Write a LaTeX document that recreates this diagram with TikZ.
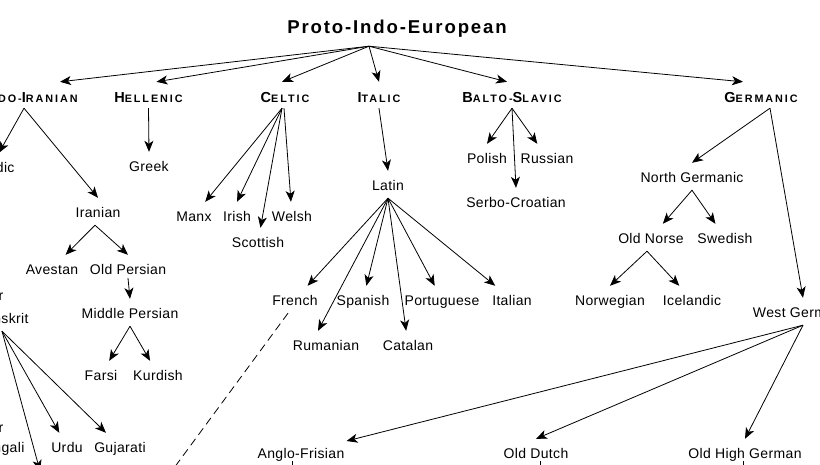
\documentclass[tikz,border=0pt]{standalone}
\usepackage{fontspec}
\usepackage{tikz}
\usetikzlibrary{arrows.meta}
\newfontfamily\langfont[LetterSpace=2.5]{Liberation Sans}
\newfontfamily\branchfont[LetterSpace=18]{Liberation Sans}
\newfontfamily\piefont[LetterSpace=10]{Liberation Sans}
\newcommand{\capsc}[2]{{\fontsize{14.5}{16}\selectfont #1}{\fontsize{10.8}{12}\selectfont #2}}
\begin{document}
\begin{tikzpicture}[x=1pt,y=-1pt,
  lang/.style={font={\langfont\fontsize{14}{16}\selectfont},anchor=base,text height=14pt,text depth=3pt,inner xsep=2pt,inner ysep=5pt},
  branch/.style={font={\branchfont\bfseries},anchor=base,text height=14pt,text depth=0pt,inner xsep=2pt,inner ysep=6pt},
  arr/.style={-{Stealth[length=11pt,width=9pt,inset=3pt]},line width=0.8pt}]
\useasboundingbox (0,0) rectangle (820,464);
\clip (0,0) rectangle (820,464);
%\draw[help lines,step=20] (0,0) grid (820,464);
\node[font={\piefont\bfseries\fontsize{18.6}{20}\selectfont},anchor=base,text depth=4pt,inner ysep=9pt] (pie) at (397,33) {Proto-Indo-European};
% branches
\node[branch] (ii) at (31,102) {\capsc{I}{NDO-}\capsc{I}{RANIAN}};
\node[branch] (hel) at (148.5,102) {\capsc{H}{ELLENIC}};
\node[branch] (cel) at (285,102) {\capsc{C}{ELTIC}};
\node[branch] (ita) at (379,102) {\capsc{I}{TALIC}};
\node[branch] (bs) at (512,102) {\capsc{B}{ALTO-}\capsc{S}{LAVIC}};
\node[branch] (ger) at (761,102) {\capsc{G}{ERMANIC}};
\draw[arr] ([xshift=-28pt]pie.south) -- ([xshift=29pt]ii.north);
\draw[arr] ([xshift=-28pt]pie.south) -- ([xshift=8pt]hel.north);
\draw[arr] ([xshift=-28pt]pie.south) -- ([xshift=-3pt]cel.north);
\draw[arr] ([xshift=-28pt]pie.south) -- (ita.north);
\draw[arr] ([xshift=-28pt]pie.south) -- ([xshift=-5pt]bs.north);
\draw[arr] ([xshift=-28pt]pie.south) -- ([xshift=-18pt]ger.north);
% indo-iranian
\node[lang] (indic) at (-1,172) {Indic};
\node[lang] (iran) at (98,217) {Iranian};
\node[lang] (ave) at (52,274) {Avestan};
\node[lang] (oper) at (128,274) {Old Persian};
\node[lang] (mper) at (130,318) {Middle Persian};
\node[lang] (farsi) at (101,380) {Farsi};
\node[lang] (kurd) at (158,380) {Kurdish};
\node[lang] (skt) at (2,323) {Sanskrit};
\node[lang] (urdu) at (67,452) {Urdu};
\node[lang] (guj) at (120,452) {Gujarati};
\node[lang] (beng) at (0,452) {Bengali};
\node[lang,anchor=base east,inner sep=0pt] (ra) at (3.5,300) {r};
\node[lang,anchor=base east,inner sep=0pt] (rb) at (3.5,432) {r};
\coordinate (sktdown) at (40,471);
\draw[arr] ([xshift=-7pt]ii.south) -- (indic.north);
\draw[arr] ([xshift=-7pt]ii.south) -- (iran.north);
\draw[arr] ([xshift=-3pt]iran.south) -- (ave);
\draw[arr] ([xshift=-3pt]iran.south) -- (oper.north);
\draw[arr] ([yshift=4pt]oper.south) -- (mper.north);
\draw[arr] (mper.south) -- (farsi);
\draw[arr] (mper.south) -- (kurd);
\draw[arr] (skt.south) -- (urdu);
\draw[arr] (skt.south) -- (guj);
\draw[arr] (skt.south) -- (sktdown);
% hellenic, celtic
\node[lang] (greek) at (149,171) {Greek};
\node[lang] (manx) at (194,221) {Manx};
\node[lang] (irish) at (237,221) {Irish};
\node[lang] (welsh) at (292,221) {Welsh};
\node[lang] (scot) at (258,247) {Scottish};
\draw[arr] (hel.south) -- (greek.north);
\draw[arr] ([xshift=-3pt]cel.south) -- (manx);
\draw[arr] ([xshift=-3pt]cel.south) -- (irish.north);
\draw[arr] ([xshift=-3pt]cel.south) -- (scot);
\draw[arr] ([xshift=-1pt]cel.south) -- (welsh);
% italic
\node[lang] (latin) at (388,190) {Latin};
\node[lang] (fr) at (295,305) {French};
\node[lang] (sp) at (363,305) {Spanish};
\node[lang] (por) at (442,305) {Portuguese};
\node[lang] (ital) at (512,305) {Italian};
\node[lang] (rum) at (326,350) {Rumanian};
\node[lang] (cat) at (408,350) {Catalan};
\coordinate (frdown) at (160,487);
\draw[arr] (ita.south) -- (latin.north);
\draw[arr] (latin.south) -- (fr);
\draw[arr] (latin.south) -- ([xshift=-8pt]rum.north);
\draw[arr] (latin.south) -- (sp);
\draw[arr] (latin.south) -- (cat);
\draw[arr] (latin.south) -- (por);
\draw[arr] (latin.south) -- (ital);
\draw[dashed,dash pattern=on 8pt off 5pt,line width=0.8pt] ([xshift=-7pt]fr.south) -- (frdown);
% balto-slavic
\node[lang] (pol) at (487,163) {Polish};
\node[lang] (rus) at (547,163) {Russian};
\node[lang] (sc) at (516,207) {Serbo-Croatian};
\draw[arr] (bs.south) -- (pol.north);
\draw[arr] (bs.south) -- (rus);
\draw[arr] (bs.south) -- (sc.north);
% germanic
\node[lang] (ng) at (692,182) {North Germanic};
\node[lang] (onorse) at (651,243) {Old Norse};
\node[lang] (swe) at (725,243) {Swedish};
\node[lang] (nor) at (610,305) {Norwegian};
\node[lang] (ice) at (692,305) {Icelandic};
\node[lang] (wg) at (803,317) {West Germanic};
\node[lang] (af) at (301,458) {Anglo-Frisian};
\node[lang] (od) at (536,458) {Old Dutch};
\node[lang] (ohg) at (745,458) {Old High German};
\coordinate (afdown) at (292,495);
\coordinate (oddown) at (540,495);
\coordinate (ohgdown) at (743,495);
\draw[arr] ([xshift=9pt]ger.south) -- (ng.north);
\draw[arr] ([xshift=9pt]ger.south) -- (wg.north);
\draw[arr] (ng.south) -- (onorse);
\draw[arr] (ng.south) -- (swe);
\draw[arr] ([xshift=-4pt]onorse.south) -- (nor.north);
\draw[arr] ([xshift=-4pt]onorse.south) -- (ice);
\draw[arr] (wg.south) -- (af);
\draw[arr] (wg.south) -- (od.north);
\draw[arr] (wg.south) -- (ohg.north);
\draw[line width=0.8pt] ([xshift=-9pt,yshift=5pt]af.south) -- (afdown);
\draw[line width=0.8pt] ([xshift=4pt,yshift=5pt]od.south) -- (oddown);
\draw[line width=0.8pt] ([xshift=-2pt,yshift=5pt]ohg.south) -- (ohgdown);
\end{tikzpicture}
\end{document}
